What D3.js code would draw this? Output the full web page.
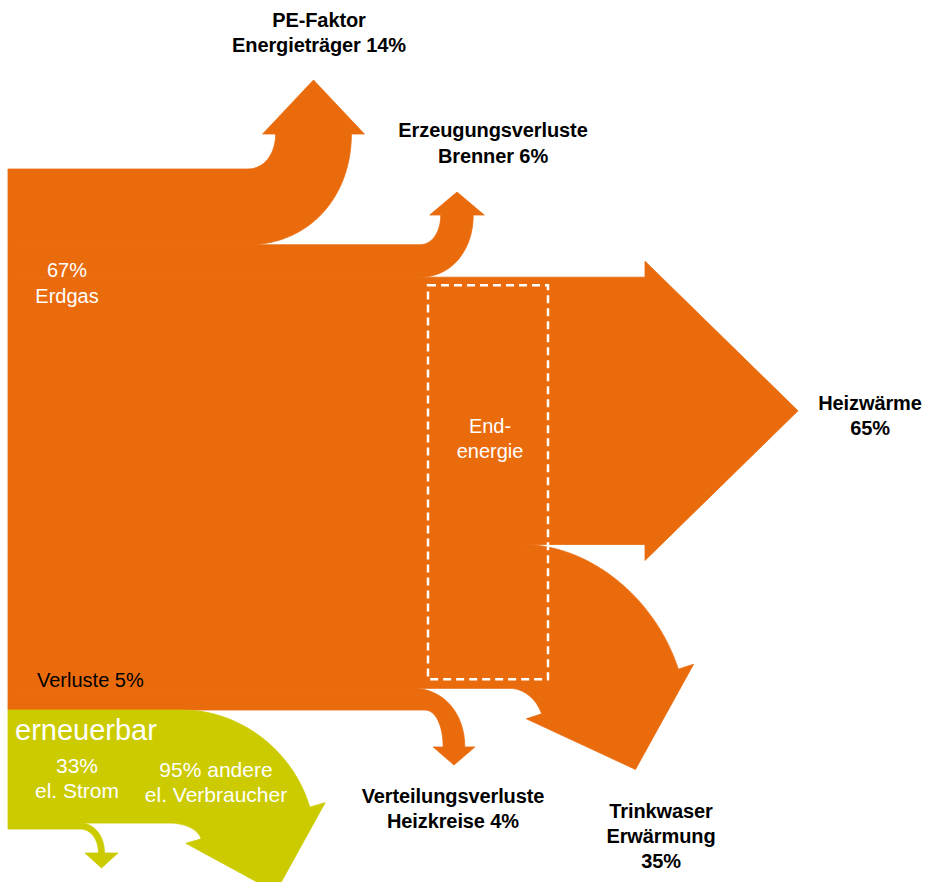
<!DOCTYPE html>
<html>
<head>
<meta charset="utf-8">
<script src="https://cdn.jsdelivr.net/npm/d3@7"></script>
<style>
  html, body { margin: 0; padding: 0; background: #fff; }
  svg { display: block; }
  text { font-family: "Liberation Sans", Arial, sans-serif; }
</style>
</head>
<body>
<svg id="chart" width="929" height="882"></svg>
<script>
// Energy flow of a gas heating system (share of primary energy = 100)
const lossNames  = ["PE-Faktor Energieträger", "Erzeugungsverluste Brenner", "Verteilungsverluste Heizkreise"];
const lossValues = [14, 6, 4];                 // % of primary energy
const useNames   = ["Heizwärme", "Trinkwaser Erwärmung"];
const useShares  = [65, 35];                   // % of end energy
const sourceShares = [67, 33];                 // Erdgas / erneuerbar el. Strom
const stromValue = 22;                         // electricity band, primary-energy units
const stromSplit = [95, 5];                    // andere el. Verbraucher / rest
const verlusteShare = 5;

const ORANGE = "#EA6B0C";
const GREEN  = "#CBCB00";

const svg = d3.select("#chart");

// value -> band thickness
const h = d3.scaleLinear().domain([0, 100]).range([0, 541]);

const leftX = 8, topY = 169;
const endEnergy = 100 - d3.sum(lossValues);
const bandValues = [
  lossValues[0],
  lossValues[1],
  endEnergy * useShares[0] / 100,
  endEnergy * useShares[1] / 100,
  lossValues[2]
];
// stacked band edges, top to bottom
const edges = [topY];
bandValues.forEach(v => edges.push(edges[edges.length - 1] + h(v)));

const greenTop = edges[5];
const greenEdges = [greenTop];
stromSplit.forEach(s => greenEdges.push(greenEdges[greenEdges.length - 1] + h(stromValue * s / 100)));

// geometry of each arrow (layout only)
const arrows = [
  { fill: ORANGE, y0: edges[0], y1: edges[1], sTop: 248, sBot: 248, bx: 313.5, by: 134, ang: -90, ext: 13, len: 54 },
  { fill: ORANGE, y0: edges[1], y1: edges[2], sTop: 420, sBot: 420, bx: 457, by: 215, ang: -90, ext: 11, len: 23 },
  { fill: ORANGE, y0: edges[2], y1: edges[3], sTop: 645, sBot: 645, bx: 645, by: null, ang: 0, ext: 16, len: 153 },
  { fill: ORANGE, y0: edges[3], y1: edges[4], sTop: 522, sBot: 510, bx: 610, by: 691.5, ang: 71.9, ext: 16, len: 82 },
  { fill: ORANGE, y0: edges[4], y1: edges[5], sTop: 413, sBot: 425, bx: 454, by: 747, ang: 90, ext: 10, len: 18 },
  { fill: GREEN, y0: greenEdges[0], y1: greenEdges[1], sTop: 183, sBot: 170, bx: 255.5, by: 823, ang: 73.7, ext: 16, len: 72 },
  { fill: GREEN, y0: greenEdges[1], y1: greenEdges[2], sTop: 80, sBot: 80, bx: 101.5, by: 853, ang: 90, ext: 13.5, len: 15 }
];

const K = 0.58;
function curveTo(p, S, E, d, reverse) {
  // S: start on the horizontal band, E: end at the arrow head base, d: end direction
  if (Math.abs(d[1]) < 1e-6) {
    if (reverse) p.lineTo(S[0], S[1]); else p.lineTo(E[0], E[1]);
    return;
  }
  const t = (E[1] - S[1]) / d[1];
  const P = [E[0] - t * d[0], S[1]];
  const c1 = [S[0] + K * (P[0] - S[0]), S[1] + K * (P[1] - S[1])];
  const c2 = [E[0] + K * (P[0] - E[0]), E[1] + K * (P[1] - E[1])];
  if (reverse) p.bezierCurveTo(c2[0], c2[1], c1[0], c1[1], S[0], S[1]);
  else p.bezierCurveTo(c1[0], c1[1], c2[0], c2[1], E[0], E[1]);
}

function arrowPath(a) {
  const w = a.y1 - a.y0;
  const r = a.ang * Math.PI / 180;
  const d = [Math.cos(r), Math.sin(r)];
  const n = [d[1], -d[0]];
  const B = [a.bx, a.by == null ? (a.y0 + a.y1) / 2 : a.by];
  const Et = [B[0] + n[0] * w / 2, B[1] + n[1] * w / 2];
  const Eb = [B[0] - n[0] * w / 2, B[1] - n[1] * w / 2];
  const p = d3.path();
  p.moveTo(leftX, a.y0);
  p.lineTo(a.sTop, a.y0);
  curveTo(p, [a.sTop, a.y0], Et, d, false);
  p.lineTo(Et[0] + n[0] * a.ext, Et[1] + n[1] * a.ext);
  p.lineTo(B[0] + d[0] * a.len, B[1] + d[1] * a.len);
  p.lineTo(Eb[0] - n[0] * a.ext, Eb[1] - n[1] * a.ext);
  p.lineTo(Eb[0], Eb[1]);
  curveTo(p, [a.sBot, a.y1], Eb, d, true);
  p.lineTo(leftX, a.y1);
  p.closePath();
  return p.toString();
}

svg.append("g")
  .selectAll("path")
  .data(arrows)
  .join("path")
  .attr("d", arrowPath)
  .attr("fill", d => d.fill)
  .attr("stroke", d => d.fill)
  .attr("stroke-width", 0.8)
  .attr("stroke-linejoin", "miter");

// end energy frame
svg.append("rect")
  .attr("x", 428)
  .attr("y", edges[2] + 8)
  .attr("width", 120)
  .attr("height", (edges[4] - 9) - (edges[2] + 8))
  .attr("fill", "none")
  .attr("stroke", "#fff")
  .attr("stroke-width", 2.5)
  .attr("stroke-dasharray", "8,5");

// labels
function label(lines, x, y, opts) {
  const t = svg.append("text")
    .attr("x", x).attr("y", y)
    .attr("text-anchor", opts.anchor || "middle")
    .attr("font-size", opts.size)
    .attr("font-weight", opts.bold ? "bold" : "normal")
    .attr("letter-spacing", opts.ls || 0)
    .attr("fill", opts.color || "#000");
  lines.forEach((l, i) => t.append("tspan").attr("x", x).attr("dy", i ? opts.lh : 0).text(l));
}

const B = { size: 20, bold: true, ls: -0.1, lh: 25 };
label(["PE-Faktor", "Energieträger " + lossValues[0] + "%"], 319, 27, B);
label(["Erzeugungsverluste", "Brenner " + lossValues[1] + "%"], 493, 137, { ...B, lh: 26 });
label(["Heizwärme", useShares[0] + "%"], 870, 410, B);
label(["Verteilungsverluste", "Heizkreise " + lossValues[2] + "%"], 453, 803, B);
label(["Trinkwaser", "Erwärmung", useShares[1] + "%"], 661, 818, { ...B, lh: 25 });

const W = { size: 20, color: "#fff", lh: 26 };
label([sourceShares[0] + "%", "Erdgas"], 67, 277, W);
label(["End-", "energie"], 490, 433, { ...W, lh: 25 });
label(["Verluste " + verlusteShare + "%"], 37, 687, { size: 20, anchor: "start", color: "#000", lh: 0 });
label(["erneuerbar"], 15, 740, { size: 29, anchor: "start", color: "#fff", lh: 0 });
label([sourceShares[1] + "%", "el. Strom"], 77, 773, { ...W, size: 21, lh: 25 });
label([stromSplit[0] + "% andere", "el. Verbraucher"], 216, 777, { ...W, size: 21, lh: 25 });
</script>
</body>
</html>
